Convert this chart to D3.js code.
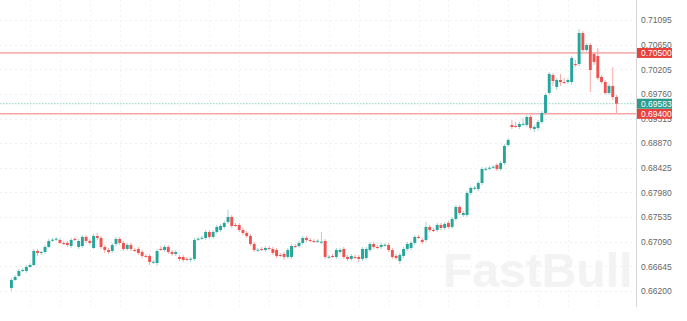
<!DOCTYPE html>
<html><head><meta charset="utf-8">
<script src="https://cdn.jsdelivr.net/npm/d3@7"></script>
<style>body{margin:0;background:#fff;} svg{display:block;}</style>
</head><body>
<svg id="c" width="687" height="321"></svg>
<script>
const opens=[.66255,.66399,.66472,.66562,.66562,.66634,.66670,.66923,.66887,.66905,
.66995,.67122,.67140,.67122,.67068,.67068,.67013,.67140,.66995,.67013,
.67176,.67104,.66977,.67194,.67158,.66995,.66941,.66923,.67050,.67140,
.67068,.66959,.67032,.66941,.66959,.66905,.66833,.66833,.66724,.66706,
.66959,.66941,.66995,.66905,.66869,.66815,.66815,.66779,.66779,.66779,
.67140,.67158,.67158,.67266,.67176,.67266,.67302,.67357,.67447,.67537,
.67393,.67393,.67302,.67248,.67194,.67050,.66941,.66959,.66941,.66977,
.66959,.66941,.66851,.66869,.66815,.66815,.67013,.67013,.67068,.67158,
.67122,.67104,.67104,.67086,.67104,.66815,.66833,.66815,.66905,.66959,
.66815,.66779,.66815,.66815,.66779,.66797,.66941,.67050,.66995,.66995,
.67032,.67032,.66941,.66833,.66742,.66833,.66959,.66977,.67068,.67176,
.67122,.67122,.67357,.67302,.67302,.67393,.67339,.67429,.67357,.67501,
.67718,.67573,.67573,.67971,.68061,.68043,.68151,.68404,.68422,.68440,
.68476,.68404,.68512,.68838,.69199,.69181,.69163,.69217,.69199,.69343,
.69126,.69145,.69253,.69415,.69777,.70102,.69885,.70011,.69975,.69975,
.69975,.70300,.70300,.70860,.70553,.70643,.70481,.70445,.70066,.69975,
.69777,.69903,.69704];
const highs=[.66435,.66490,.66598,.66616,.66670,.66706,.66959,.66959,.66923,.67032,
.67140,.67158,.67176,.67158,.67104,.67104,.67158,.67176,.67140,.67212,
.67212,.67140,.67230,.67248,.67194,.67032,.66977,.67068,.67176,.67176,
.67104,.67068,.67068,.66977,.66995,.66941,.66869,.66869,.66761,.66959,
.67013,.67032,.67032,.66941,.66941,.66851,.66851,.66815,.66815,.67158,
.67176,.67194,.67302,.67302,.67302,.67393,.67411,.67465,.67664,.67573,
.67429,.67429,.67339,.67284,.67230,.67086,.66977,.66995,.67013,.67013,
.66995,.66977,.66887,.66905,.66977,.67050,.67050,.67104,.67194,.67194,
.67158,.67140,.67140,.67266,.67140,.66851,.66869,.66977,.66977,.66995,
.66851,.66869,.66851,.66851,.66995,.66995,.67086,.67086,.67032,.67068,
.67068,.67068,.66977,.66869,.66887,.66995,.67086,.67104,.67212,.67212,
.67158,.67447,.67393,.67339,.67429,.67429,.67447,.67465,.67537,.67754,
.67754,.67646,.68007,.68097,.68097,.68187,.68440,.68440,.68458,.68476,
.68512,.68549,.68856,.68964,.69289,.69253,.69253,.69325,.69379,.69379,
.69199,.69289,.69452,.69777,.70156,.70138,.70048,.70120,.70048,.70048,
.70445,.70373,.70932,.70896,.70680,.70680,.70517,.70589,.70102,.70011,
.69939,.70246,.69740];
const lows=[.66201,.66381,.66454,.66544,.66526,.66616,.66652,.66833,.66851,.66869,
.66977,.67086,.67104,.67050,.67032,.66995,.66977,.67104,.66959,.66977,
.67068,.67032,.66959,.67122,.66959,.66887,.66869,.66887,.67013,.67032,
.66923,.66923,.66923,.66905,.66851,.66797,.66797,.66670,.66688,.66652,
.66923,.66905,.66869,.66833,.66833,.66742,.66724,.66742,.66724,.66742,
.67104,.67122,.67122,.67140,.67140,.67230,.67266,.67321,.67411,.67339,
.67357,.67266,.67212,.67158,.67013,.66905,.66905,.66923,.66905,.66941,
.66851,.66797,.66815,.66761,.66779,.66779,.66977,.66977,.67032,.67086,
.67086,.67068,.67068,.67050,.66779,.66779,.66797,.66779,.66869,.66779,
.66742,.66742,.66779,.66724,.66742,.66761,.66905,.66959,.66959,.66959,
.66995,.66905,.66779,.66761,.66688,.66797,.66923,.66941,.67032,.67140,
.67050,.67086,.67266,.67266,.67266,.67302,.67302,.67321,.67321,.67465,
.67573,.67537,.67537,.67934,.68025,.68007,.68115,.68368,.68386,.68404,
.68368,.68368,.68476,.68801,.69126,.69145,.69126,.69181,.69163,.69108,
.69072,.69108,.69217,.69379,.69740,.69903,.69831,.69903,.69939,.69939,
.69921,.70246,.70264,.70517,.70517,.69795,.70282,.70011,.69939,.69740,
.69740,.69650,.69400];
const closes=[.66399,.66454,.66562,.66580,.66634,.66670,.66923,.66887,.66905,.66995,
.67104,.67126,.67144,.67068,.67064,.67032,.67122,.67136,.67104,.67176,
.67104,.67068,.67194,.67158,.66995,.66941,.66905,.67032,.67140,.67068,
.66959,.67032,.66959,.66937,.66887,.66833,.66829,.66724,.66728,.66923,
.66955,.66995,.66905,.66869,.66905,.66779,.66761,.66775,.66783,.67122,
.67144,.67162,.67266,.67176,.67266,.67357,.67375,.67429,.67537,.67375,
.67389,.67302,.67248,.67194,.67050,.66941,.66945,.66955,.66977,.66973,
.66887,.66833,.66847,.66815,.66941,.67013,.67009,.67068,.67158,.67122,
.67118,.67100,.67108,.67090,.66815,.66819,.66829,.66941,.66941,.66815,
.66779,.66833,.66811,.66779,.66959,.66959,.67050,.66995,.66991,.67032,
.67036,.66941,.66815,.66797,.66851,.66959,.67050,.67068,.67176,.67172,
.67086,.67357,.67302,.67298,.67393,.67339,.67411,.67357,.67501,.67718,
.67609,.67609,.67971,.68061,.68065,.68151,.68404,.68408,.68426,.68444,
.68404,.68512,.68819,.68928,.69163,.69177,.69217,.69221,.69343,.69145,
.69163,.69253,.69415,.69740,.70120,.69993,.70011,.69975,.69971,.70011,
.70409,.70296,.70860,.70553,.70643,.70192,.70336,.70048,.69975,.69777,
.69903,.69704,.69583];
const tickLabels=["0.71095","0.70650","0.70205","0.69760","0.69315","0.68870","0.68425","0.67980","0.67535","0.67090","0.66645","0.66200"];
const levelValues=[0.70500,0.69400];
const levelLabels=["0.70500","0.69400"];
const lastValue=0.69583;
const lastLabel="0.69583";
const watermark="FastBull";

const W=687,H=321,axisX=636;
const N=closes.length;
const FONT="Liberation Sans, Arial, sans-serif";
const svg=d3.select("#c");
const x=d3.scaleBand().domain(d3.range(N)).range([9.13,9.13+3.74*N]).padding(0.22);
const y=d3.scaleLinear().domain([0.66200,0.71095]).range([291,20]);
const tickVals=tickLabels.map(Number);

// watermark
svg.append("text").attr("x",443).attr("y",287).text(watermark)
  .attr("font-family",FONT).attr("font-weight","bold")
  .attr("font-size",48).attr("fill","#f3f3f3");

// grid
const g=svg.append("g");
g.selectAll("line.h").data(tickVals).join("line").attr("class","h")
  .attr("x1",0).attr("x2",axisX).attr("y1",d=>Math.round(y(d))+0.5).attr("y2",d=>Math.round(y(d))+0.5)
  .attr("stroke","#efefef").attr("stroke-dasharray","2,3");
const vIdx=d3.range(5,N,8);
g.selectAll("line.v").data(vIdx).join("line").attr("class","v")
  .attr("x1",d=>Math.round(x(d)+x.bandwidth()/2)+0.5).attr("x2",d=>Math.round(x(d)+x.bandwidth()/2)+0.5)
  .attr("y1",0).attr("y2",307).attr("stroke","#f3f3f3").attr("stroke-dasharray","2,3");

// level lines
svg.selectAll("line.lv").data(levelValues).join("line")
  .attr("x1",0).attr("x2",axisX).attr("y1",d=>y(d)).attr("y2",d=>y(d))
  .attr("stroke","#ef7a76").attr("stroke-width",1);
svg.append("line").attr("x1",0).attr("x2",axisX).attr("y1",y(lastValue)).attr("y2",y(lastValue))
  .attr("stroke","#8fd3c6").attr("stroke-dasharray","1.5,1.5");

// candles
const idx=d3.range(N);
const up=i=>closes[i]>=opens[i];
const cg=svg.append("g");
cg.selectAll("line.w").data(idx).join("line")
  .attr("x1",i=>x(i)+x.bandwidth()/2).attr("x2",i=>x(i)+x.bandwidth()/2)
  .attr("y1",i=>y(highs[i])).attr("y2",i=>y(lows[i]))
  .attr("stroke",i=>up(i)?"#9fd8cf":"#f5aaa8").attr("stroke-width",1);
cg.selectAll("rect").data(idx).join("rect")
  .attr("x",i=>x(i)).attr("width",x.bandwidth())
  .attr("y",i=>y(Math.max(opens[i],closes[i])))
  .attr("height",i=>Math.max(1,Math.abs(y(opens[i])-y(closes[i]))))
  .attr("fill",i=>up(i)?"#26a69a":"#ef5350");

// axis
const ax=svg.append("g").attr("transform",`translate(${axisX},0)`)
  .call(d3.axisRight(y).tickValues(tickVals).tickSize(0).tickPadding(5).tickFormat((d,i)=>tickLabels[i]));
ax.select(".domain").remove();
ax.selectAll("text").attr("font-family",FONT).attr("font-size",8.5).attr("fill","#666");
svg.append("line").attr("x1",axisX+0.5).attr("x2",axisX+0.5).attr("y1",0).attr("y2",307).attr("stroke","#d6d6d6");

// label boxes
function box(v,label,color){
  const yy=y(v);
  svg.append("rect").attr("x",axisX+1).attr("y",yy-5).attr("width",35).attr("height",10).attr("fill",color);
  svg.append("text").attr("x",axisX+5).attr("y",yy).attr("dy","0.35em").text(label)
    .attr("font-family",FONT).attr("font-size",8.5).attr("fill","#fff");
}
levelValues.forEach((v,i)=>box(v,levelLabels[i],"#e8413c"));
box(lastValue,lastLabel,"#2a9d8f");
</script>
</body></html>
